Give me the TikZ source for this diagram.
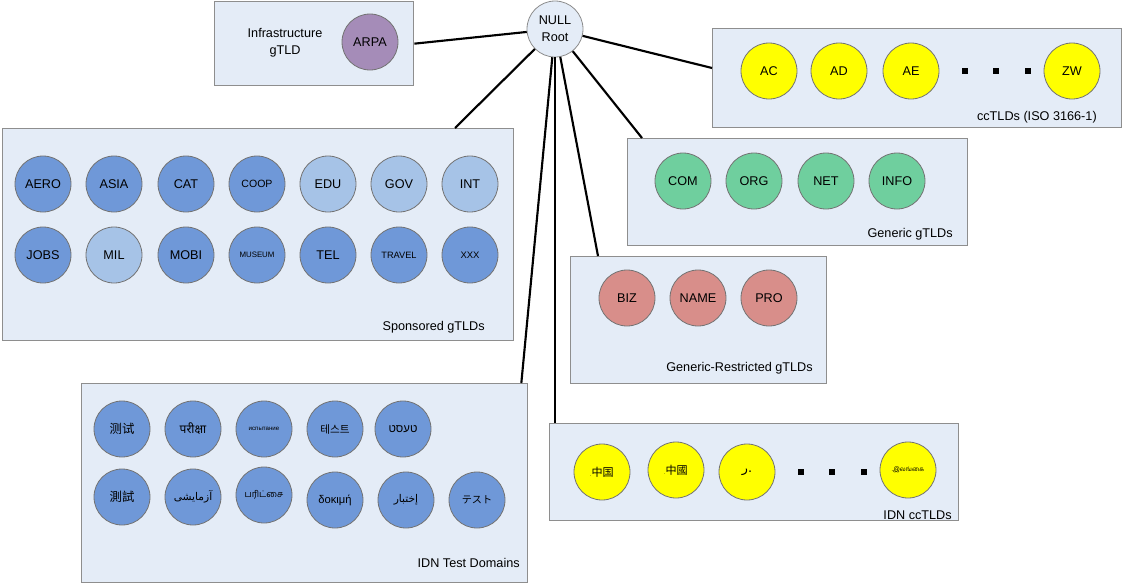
\documentclass[tikz,border=0pt]{standalone}
\usepackage{fontspec}
\usetikzlibrary{calc}
\setmainfont{Liberation Sans}
\newfontfamily\fSC{Noto Sans CJK SC}
\newfontfamily\fTC{Noto Sans CJK TC}
\newfontfamily\fKR{Noto Sans CJK KR}
\newfontfamily\fJP{Noto Sans CJK JP}
\newfontfamily\fDeva[Script=Devanagari]{Noto Sans}
\newfontfamily\fTaml[Script=Tamil]{Hind Madurai}
\newfontfamily\fArab[Script=Arabic]{DejaVu Sans}
\newfontfamily\fHebr[Script=Hebrew]{Liberation Sans}
\TeXXeTstate=1

\definecolor{panelfill}{HTML}{E4ECF7}
\definecolor{panelline}{HTML}{8E8E8E}
\definecolor{sdark}{HTML}{6F98D8}
\definecolor{slight}{HTML}{A6C3E7}
\definecolor{ggreen}{HTML}{6FCF9E}
\definecolor{rpink}{HTML}{D88E8A}
\definecolor{apurple}{HTML}{A58CB8}
\definecolor{cyellow}{HTML}{FFFF00}

\newcommand{\fs}[1]{\fontsize{#1}{#1}\selectfont}

\tikzset{
  panel/.style={rectangle, draw=panelline, fill=panelfill, line width=1pt,
    anchor=north west, inner sep=0pt},
  panellabel/.style={anchor=east, inner sep=0pt, font=\fs{9.5}},
  tld/.style={circle, draw=black!55, line width=0.6pt, minimum size=42pt,
    inner sep=0pt, font=\fs{9.5}},
  sd/.style={tld, fill=sdark},
  sl/.style={tld, fill=slight},
  gg/.style={tld, fill=ggreen},
  rp/.style={tld, fill=rpink},
  ap/.style={tld, fill=apurple},
  cy/.style={tld, fill=cyellow},
  dotsq/.style={rectangle, fill=black, minimum size=5pt, inner sep=0pt},
  link/.style={line width=1.6pt, black},
}

\begin{document}
\begin{tikzpicture}[x=0.75pt, y=-0.75pt]
\useasboundingbox (0,0) rectangle (1125,583);

% ---- group panels ----
\node[panel, minimum width=149.25pt, minimum height=63pt] (infra) at (214,1) {};
\node[panel, minimum width=306.75pt, minimum height=74.25pt] (cc) at (712,28) {};
\node[panel, minimum width=383.25pt, minimum height=159pt] (spons) at (2,128) {};
\node[panel, minimum width=255pt, minimum height=80.25pt] (generic) at (627,138) {};
\node[panel, minimum width=192pt, minimum height=95.25pt] (restr) at (570,256) {};
\node[panel, minimum width=334.5pt, minimum height=149.25pt] (idntest) at (81,383) {};
\node[panel, minimum width=306.75pt, minimum height=72.75pt] (idncc) at (549,423) {};

% ---- root ----
\node[tld, fill=panelfill, draw=black!45, align=center, font=\fontsize{9.5}{12.5}\selectfont] (root) at (555,29) {NULL\\Root};

% ---- connectors ----
\draw[link] (root) -- (infra.east);
\draw[link] (root) -- ($(cc.north west)+(0,40)$);
\draw[link] (root) -- ($(spons.north west)+(453,0)$);
\draw[link] (root) -- ($(generic.north west)+(15,0)$);
\draw[link] (root) -- ($(restr.north west)+(28,0)$);
\draw[link] (root) -- ($(idntest.north east)+(-7,0)$);
\draw[link] (root) -- ($(idncc.north west)+(6,0)$);

% ---- infrastructure gTLD ----
\node[align=center, font=\fontsize{9.5}{12.75}\selectfont, inner sep=0pt] (infra-lbl) at (285,43) {Infrastructure\\gTLD};
\node[ap] (arpa) at (370,42) {ARPA};

% ---- ccTLDs ----
\node[cy] (ac) at (769,71) {AC};
\node[cy] (ad) at (839,71) {AD};
\node[cy] (ae) at (911,71) {AE};
\node[dotsq] (cc-d1) at (965,71) {};
\node[dotsq] (cc-d2) at (996,71) {};
\node[dotsq] (cc-d3) at (1028,71) {};
\node[cy] (zw) at (1072,71) {ZW};
\node[panellabel] (cc-lbl) at (1097,117) {ccTLDs (ISO 3166-1)};

% ---- sponsored gTLDs ----
\node[sd] (aero) at (43,184) {AERO};
\node[sd] (asia) at (114,184) {ASIA};
\node[sd] (cat) at (186,184) {CAT};
\node[sd, font=\fs{7.9}] (coop) at (257,184) {COOP};
\node[sl] (edu) at (328,184) {EDU};
\node[sl] (gov) at (399,184) {GOV};
\node[sl] (int) at (470,184) {INT};
\node[sd] (jobs) at (43,255) {JOBS};
\node[sl] (mil) at (114,255) {MIL};
\node[sd] (mobi) at (186,255) {MOBI};
\node[sd, font=\fs{5.9}] (museum) at (257,255) {MUSEUM};
\node[sd] (tel) at (328,255) {TEL};
\node[sd, font=\fs{6.9}] (travel) at (399,255) {TRAVEL};
\node[sd, font=\fs{7.1}] (xxx) at (470,255) {XXX};
\node[panellabel] (spons-lbl) at (485,327) {Sponsored gTLDs};

% ---- generic gTLDs ----
\node[gg] (com) at (683,181) {COM};
\node[gg] (org) at (754,181) {ORG};
\node[gg] (net) at (826,181) {NET};
\node[gg] (info) at (897,181) {INFO};
\node[panellabel] (generic-lbl) at (953,234) {Generic gTLDs};

% ---- generic-restricted gTLDs ----
\node[rp] (biz) at (627,298) {BIZ};
\node[rp] (name) at (698,298) {NAME};
\node[rp] (pro) at (769,298) {PRO};
\node[panellabel] (restr-lbl) at (813,368) {Generic-Restricted gTLDs};

% ---- IDN test domains ----
\node[sd, font=\fSC\fs{9.3}] (t-zhs) at (122,429) {测试};
\node[sd, font=\fDeva\fs{9}] (t-hi) at (193,429) {परीक्षा};
\node[sd, font=\fs{4.6}] (t-ru) at (264,429) {испытание};
\node[sd, font=\fKR\fs{8}] (t-ko) at (335,429) {테스트};
\node[sd] (t-yi) at (403,429) {\fHebr\fs{8.5}\beginR טעסט\endR};
\node[sd, font=\fTC\fs{9.3}] (t-zht) at (122,497) {測試};
\node[sd] (t-fa) at (193,497) {\fArab\fs{8}\beginR آزمایشی\endR};
\node[sd, font=\fTaml\fs{6.8}] (t-ta) at (264,495) {பரிட்சை};
\node[sd, font=\fs{8.4}] (t-el) at (335,500) {δοκιμή};
\node[sd] (t-ar) at (406,500) {\fArab\fs{8}\beginR إختبار\endR};
\node[sd, font=\fJP\fs{7.6}] (t-ja) at (477,500) {テスト};
\node[panellabel] (idntest-lbl) at (520,563) {IDN Test Domains};

% ---- IDN ccTLDs ----
\node[cy, font=\fSC\fs{8.3}] (i-cn) at (602,472) {{\fs{4}.}中国};
\node[cy, font=\fTC\fs{8.3}] (i-tw) at (676,470) {{\fs{4}.}中國};
\node[cy] (i-ar) at (747,472) {\fArab\fs{9.5}\beginR .ر\endR};
\node[dotsq] (i-d1) at (801,472) {};
\node[dotsq] (i-d2) at (832,472) {};
\node[dotsq] (i-d3) at (864,472) {};
\node[cy, font=\fTaml\fs{4.6}] (i-lk) at (908,470) {.இலங்கை};
\node[panellabel] (idncc-lbl) at (952,515) {IDN ccTLDs};

\end{tikzpicture}
\end{document}
